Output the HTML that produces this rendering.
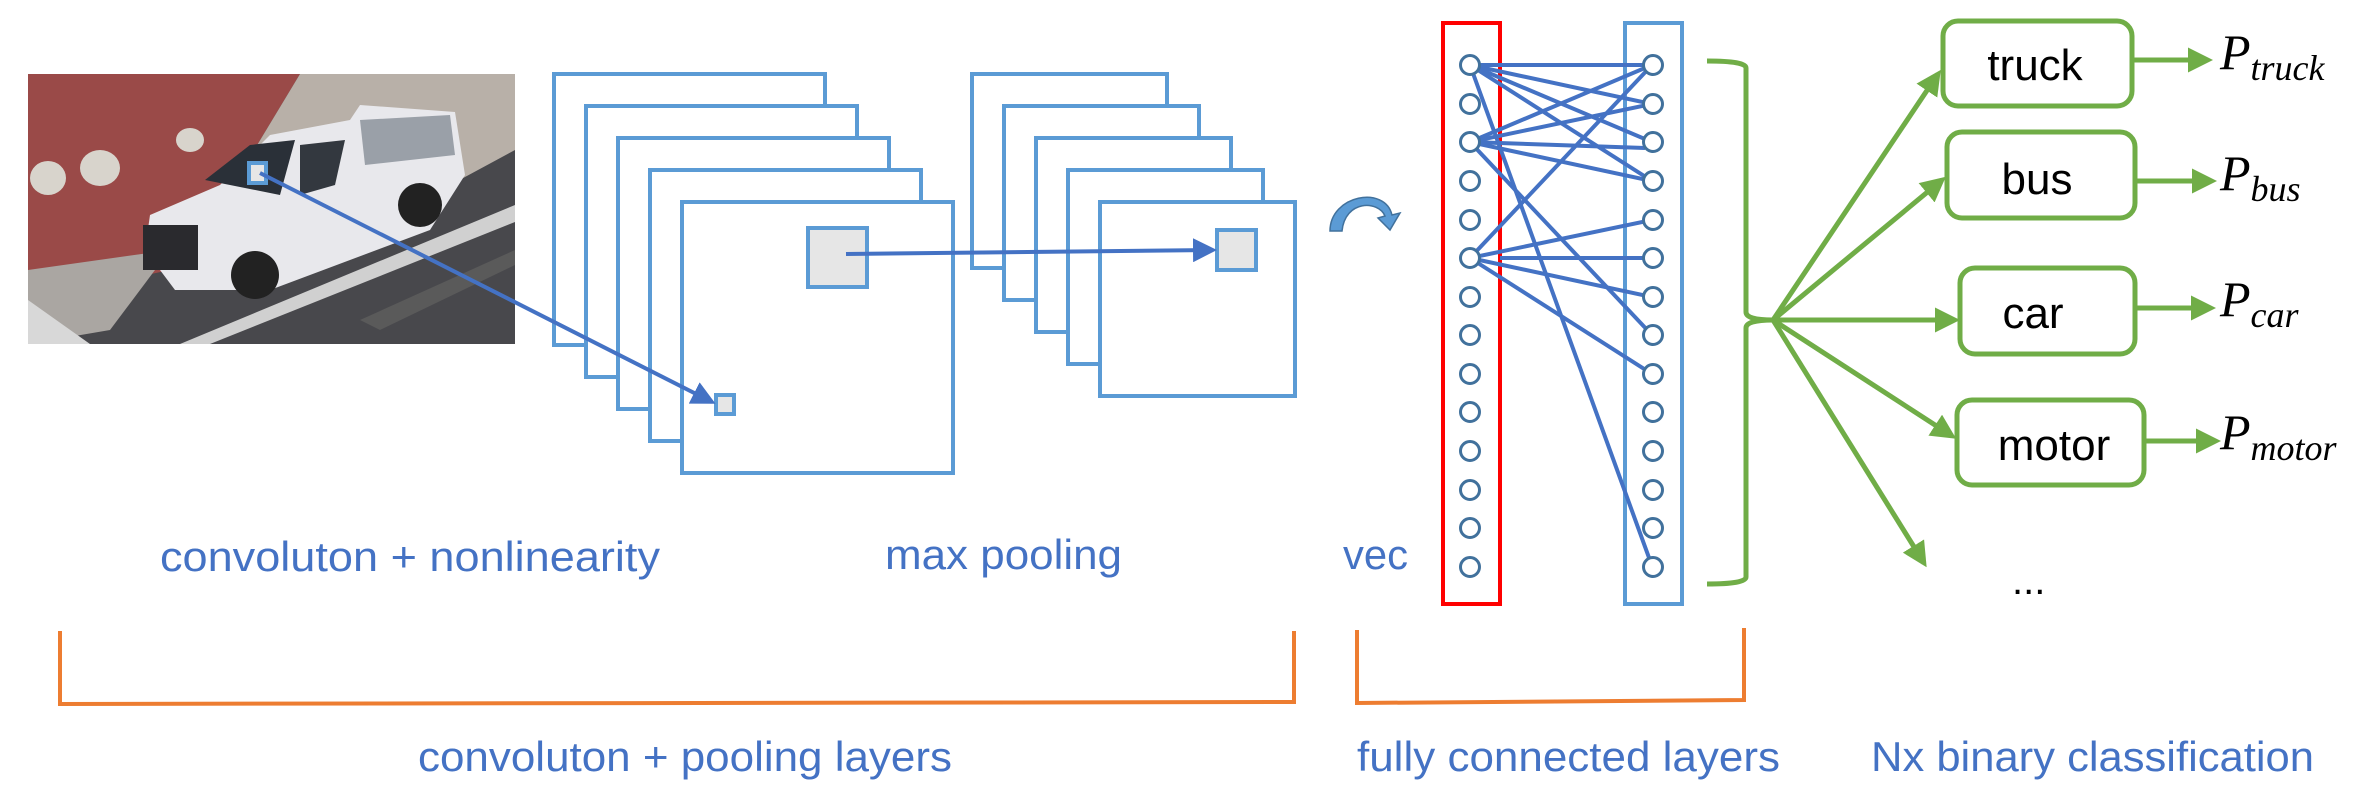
<!DOCTYPE html>
<html><head><meta charset="utf-8"><style>
html,body{margin:0;padding:0;background:#fff;}
svg{display:block;}
</style></head><body>
<svg width="2370" height="800" viewBox="0 0 2370 800" xmlns="http://www.w3.org/2000/svg" font-family="Liberation Sans, sans-serif">
<defs>
<marker id="ab" markerWidth="6" markerHeight="6" refX="5" refY="3" orient="auto" markerUnits="strokeWidth"><path d="M0,0 L6,3 L0,6 z" fill="#4472C4"/></marker>
<marker id="ag" markerWidth="5" markerHeight="5" refX="4" refY="2.5" orient="auto" markerUnits="strokeWidth"><path d="M0,0 L5,2.5 L0,5 z" fill="#70AD47"/></marker>
</defs>

<!-- photo -->
<rect x="28" y="74" width="487" height="270" fill="#48484c"/>
<polygon points="28,74 300,74 230,190 170,270 28,300" fill="#9a4a48"/>
<polygon points="300,74 515,74 515,150 330,250 170,270 230,190" fill="#b8b0a8"/>
<polygon points="28,270 170,250 110,330 28,344" fill="#aaa6a2"/>
<polygon points="28,300 90,344 28,344" fill="#d8d8d8"/>
<polygon points="180,344 515,205 515,222 210,344" fill="#d0d0d0"/>
<polygon points="360,320 515,250 515,265 380,330" fill="#5a5a5a"/>
<ellipse cx="100" cy="168" rx="20" ry="18" fill="#d8d4cc"/>
<ellipse cx="48" cy="178" rx="18" ry="17" fill="#d8d4cc"/>
<ellipse cx="190" cy="140" rx="14" ry="12" fill="#d8d4cc"/>
<!-- truck -->
<polygon points="145,250 150,215 220,185 270,135 350,120 360,105 455,112 465,175 430,230 270,290 175,290" fill="#e8e8ec"/>
<polygon points="205,180 250,145 295,140 280,195" fill="#2a3038"/>
<polygon points="300,145 345,140 335,185 300,195" fill="#33383f"/>
<polygon points="360,120 450,115 455,155 365,165" fill="#9aa0a8"/>
<rect x="143" y="225" width="55" height="45" fill="#2a2a2e"/>
<circle cx="255" cy="275" r="24" fill="#222"/>
<circle cx="420" cy="205" r="22" fill="#222"/>
<rect x="249" y="163" width="17" height="20" fill="#e6e6e6" stroke="#5B9BD5" stroke-width="4"/>

<!-- conv frames -->
<g fill="#fff" stroke="#5B9BD5" stroke-width="4">
<rect x="554" y="74" width="271" height="271"/>
<rect x="586" y="106" width="271" height="271"/>
<rect x="618" y="138" width="271" height="271"/>
<rect x="650" y="170" width="271" height="271"/>
<rect x="682" y="202" width="271" height="271"/>
<rect x="808" y="228" width="59" height="59" fill="#e6e6e6"/>
<rect x="716" y="395" width="18" height="19" fill="#e6e6e6"/>
<rect x="972" y="74" width="195" height="194"/>
<rect x="1004" y="106" width="195" height="194"/>
<rect x="1036" y="138" width="195" height="194"/>
<rect x="1068" y="170" width="195" height="194"/>
<rect x="1100" y="202" width="195" height="194"/>
<rect x="1217" y="230" width="39" height="40" fill="#e6e6e6"/>
</g>
<line x1="260" y1="173" x2="712" y2="402" stroke="#4472C4" stroke-width="4" marker-end="url(#ab)"/>
<line x1="846" y1="254" x2="1213" y2="250" stroke="#4472C4" stroke-width="4" marker-end="url(#ab)"/>

<text x="160" y="571" font-size="42" fill="#4472C4" textLength="500" lengthAdjust="spacingAndGlyphs">convoluton + nonlinearity</text>
<text x="885" y="569" font-size="42" fill="#4472C4" textLength="237" lengthAdjust="spacingAndGlyphs">max pooling</text>
<polyline points="60,631 60,704 1294,702 1294,631" fill="none" stroke="#ED7D31" stroke-width="4"/>
<text x="418" y="771" font-size="42" fill="#4472C4" textLength="534" lengthAdjust="spacingAndGlyphs">convoluton + pooling layers</text>

<!-- curved arrow -->
<path d="M1330,231 C1330,195 1385,185 1392,215 L1400,213 L1390,230 L1378,218 L1385,216 C1378,200 1345,200 1342,231 Z" fill="#5B9BD5" stroke="#41719C" stroke-width="1.5"/>
<text x="1343" y="569" font-size="42" fill="#4472C4" textLength="65" lengthAdjust="spacingAndGlyphs">vec</text>

<rect x="1443" y="23" width="57" height="581" fill="none" stroke="#FF0000" stroke-width="4"/>
<rect x="1625" y="23" width="57" height="581" fill="none" stroke="#5B9BD5" stroke-width="4"/>
<g stroke="#4472C4" stroke-width="4">
<line x1="1470" y1="65" x2="1652" y2="65"/>
<line x1="1470" y1="65" x2="1652" y2="104"/>
<line x1="1470" y1="65" x2="1652" y2="142"/>
<line x1="1470" y1="65" x2="1652" y2="181"/>
<line x1="1470" y1="65" x2="1652" y2="566"/>
<line x1="1470" y1="142" x2="1652" y2="65"/>
<line x1="1470" y1="142" x2="1652" y2="104"/>
<line x1="1470" y1="142" x2="1645" y2="148"/>
<line x1="1470" y1="142" x2="1652" y2="181"/>
<line x1="1470" y1="142" x2="1652" y2="335"/>
<line x1="1470" y1="258" x2="1652" y2="65"/>
<line x1="1470" y1="258" x2="1652" y2="220"/>
<line x1="1500" y1="258" x2="1652" y2="258"/>
<line x1="1470" y1="258" x2="1652" y2="297"/>
<line x1="1470" y1="258" x2="1652" y2="374"/>
</g>
<g fill="#fff" stroke="#41719C" stroke-width="3">
<circle cx="1470" cy="65" r="9.5"/><circle cx="1470" cy="104" r="9.5"/><circle cx="1470" cy="142" r="9.5"/><circle cx="1470" cy="181" r="9.5"/><circle cx="1470" cy="220" r="9.5"/><circle cx="1470" cy="258" r="9.5"/><circle cx="1470" cy="297" r="9.5"/><circle cx="1470" cy="335" r="9.5"/><circle cx="1470" cy="374" r="9.5"/><circle cx="1470" cy="412" r="9.5"/><circle cx="1470" cy="451" r="9.5"/><circle cx="1470" cy="490" r="9.5"/><circle cx="1470" cy="528" r="9.5"/><circle cx="1470" cy="567" r="9.5"/>
<circle cx="1653" cy="65" r="9.5"/><circle cx="1653" cy="104" r="9.5"/><circle cx="1653" cy="142" r="9.5"/><circle cx="1653" cy="181" r="9.5"/><circle cx="1653" cy="220" r="9.5"/><circle cx="1653" cy="258" r="9.5"/><circle cx="1653" cy="297" r="9.5"/><circle cx="1653" cy="335" r="9.5"/><circle cx="1653" cy="374" r="9.5"/><circle cx="1653" cy="412" r="9.5"/><circle cx="1653" cy="451" r="9.5"/><circle cx="1653" cy="490" r="9.5"/><circle cx="1653" cy="528" r="9.5"/><circle cx="1653" cy="567" r="9.5"/>
</g>

<!-- green bracket -->
<path d="M1707,61 Q1746,61 1746,68 L1746,312 Q1746,320 1773,320 Q1746,320 1746,328 L1746,577 Q1746,584 1707,584" fill="none" stroke="#70AD47" stroke-width="5"/>
<g stroke="#70AD47" stroke-width="5" fill="none">
<line x1="1773" y1="320" x2="1938" y2="74" marker-end="url(#ag)"/>
<line x1="1773" y1="320" x2="1942" y2="180" marker-end="url(#ag)"/>
<line x1="1773" y1="320" x2="1955" y2="320" marker-end="url(#ag)"/>
<line x1="1773" y1="320" x2="1952" y2="436" marker-end="url(#ag)"/>
<line x1="1773" y1="320" x2="1924" y2="563" marker-end="url(#ag)"/>
<line x1="2134" y1="60" x2="2208" y2="60" marker-end="url(#ag)"/>
<line x1="2137" y1="181" x2="2212" y2="181" marker-end="url(#ag)"/>
<line x1="2137" y1="308" x2="2211" y2="308" marker-end="url(#ag)"/>
<line x1="2146" y1="441" x2="2216" y2="441" marker-end="url(#ag)"/>
<rect x="1943" y="21" width="189" height="85" rx="15" fill="#fff"/>
<rect x="1947" y="132" width="188" height="86" rx="15" fill="#fff"/>
<rect x="1960" y="268" width="175" height="86" rx="15" fill="#fff"/>
<rect x="1957" y="400" width="187" height="85" rx="15" fill="#fff"/>
</g>
<g font-size="44" fill="#000" text-anchor="middle">
<text x="2035" y="80">truck</text>
<text x="2037" y="194">bus</text>
<text x="2033" y="328">car</text>
<text x="2054" y="460">motor</text>
</g>
<g font-family="Liberation Serif, serif" font-style="italic" fill="#000">
<text x="2220" y="69" font-size="50">P<tspan font-size="36" dy="11">truck</tspan></text>
<text x="2220" y="190" font-size="50">P<tspan font-size="36" dy="11">bus</tspan></text>
<text x="2220" y="316" font-size="50">P<tspan font-size="36" dy="11">car</tspan></text>
<text x="2220" y="449" font-size="50">P<tspan font-size="36" dy="11">motor</tspan></text>
</g>
<text x="2012" y="594" font-size="40" fill="#000">...</text>

<polyline points="1357,630 1357,703 1744,700 1744,628" fill="none" stroke="#ED7D31" stroke-width="4"/>
<text x="1357" y="771" font-size="42" fill="#4472C4" textLength="423" lengthAdjust="spacingAndGlyphs">fully connected layers</text>
<text x="1871" y="771" font-size="42" fill="#4472C4" textLength="443" lengthAdjust="spacingAndGlyphs">Nx binary classification</text>
</svg>
</body></html>
